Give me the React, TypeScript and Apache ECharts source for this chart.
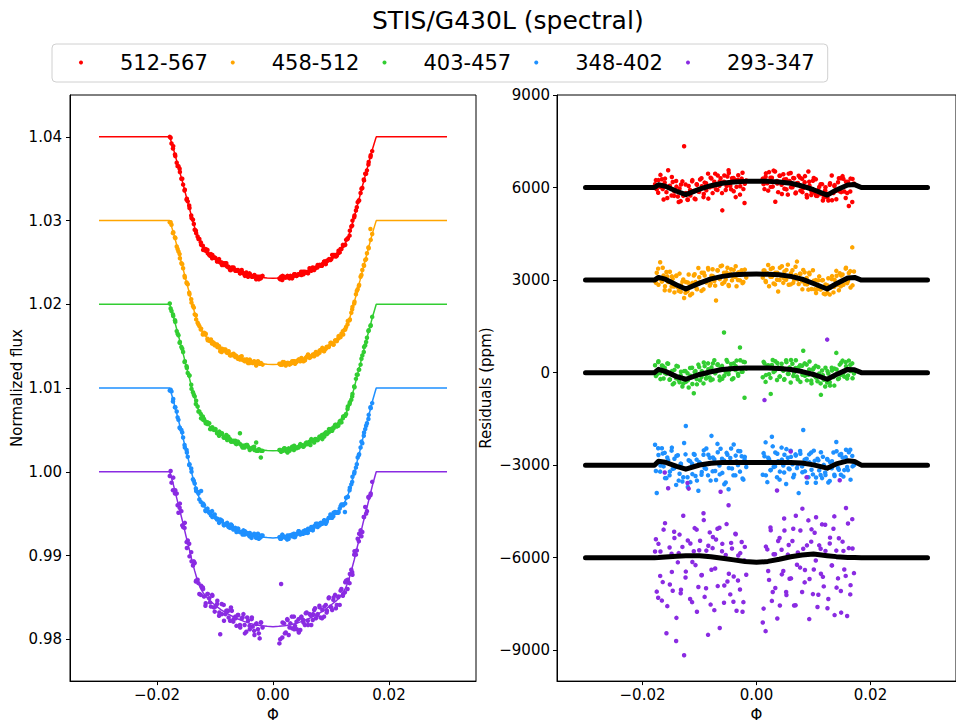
import React, { useEffect, useRef } from "react";
import * as echarts from "echarts";

const FONT = "DejaVu Sans";

const bands = ["512-567", "458-512", "403-457", "348-402", "293-347"];
const colors = ["#ff0000", "#ffa500", "#32cd32", "#1e90ff", "#8a2be2"];

const xTicks = [-0.02, 0, 0.02];
const fluxTicks = [0.98, 0.99, 1.0, 1.01, 1.02, 1.03, 1.04];
const residTicks = [-9000, -6000, -3000, 0, 3000, 6000, 9000];

// orbital phase of each exposure, visit 1 (shared by all spectral channels)
const phase = [
  -0.0178, -0.0175, -0.0172, -0.0169, -0.0166, -0.0163, -0.0161, -0.0158, -0.0155, -0.0152,
  -0.0149, -0.0147, -0.0144, -0.0141, -0.0138, -0.0135, -0.0133, -0.013, -0.0127, -0.0124,
  -0.0121, -0.0119, -0.0116, -0.0113, -0.011, -0.0107, -0.0105, -0.0102, -0.0099, -0.0096,
  -0.0093, -0.0091, -0.0088, -0.0085, -0.0082, -0.0079, -0.0077, -0.0074, -0.0071, -0.0068,
  -0.0065, -0.0063, -0.006, -0.0057, -0.0054, -0.0051, -0.0049, -0.0046, -0.0043, -0.004,
  -0.0037, -0.0035, -0.0032, -0.0029, -0.0026, -0.0023, -0.0021, -0.0018,
  0.0011, 0.0014, 0.0016, 0.0019, 0.0022, 0.0025, 0.0027, 0.003, 0.0033, 0.0036,
  0.0038, 0.0041, 0.0044, 0.0047, 0.0049, 0.0052, 0.0055, 0.0058, 0.006, 0.0063,
  0.0066, 0.0069, 0.0071, 0.0074, 0.0077, 0.008, 0.0082, 0.0085, 0.0088, 0.0091,
  0.0093, 0.0096, 0.0099, 0.0102, 0.0104, 0.0107, 0.011, 0.0113, 0.0115, 0.0118,
  0.0121, 0.0124, 0.0126, 0.0129, 0.0132, 0.0135, 0.0137, 0.014, 0.0143, 0.0146,
  0.0148, 0.0151, 0.0154, 0.0157, 0.0159, 0.0162, 0.0165, 0.0168, 0.0171,
];
// visit 2
const phase2 = [
  -0.01765, -0.01725, -0.01685, -0.01645, -0.01605, -0.01565, -0.01525, -0.01485, -0.01445, -0.01405,
  -0.01365, -0.01325, -0.01285, -0.01245, -0.01205, -0.01165, -0.01125, -0.01085, -0.01045, -0.01005,
  -0.00965, -0.00925, -0.00885, -0.00845, -0.00805, -0.00765, -0.00725, -0.00685, -0.00645, -0.00605,
  -0.00565, -0.00525, -0.00485, -0.00445, -0.00405, -0.00365, -0.00325, -0.00285, -0.00245, -0.00205,
  0.00125, 0.00165, 0.00205, 0.00245, 0.00285, 0.00325, 0.00365, 0.00405, 0.00445, 0.00485,
  0.00525, 0.00565, 0.00605, 0.00645, 0.00685, 0.00725, 0.00765, 0.00805, 0.00845, 0.00885,
  0.00925, 0.00965, 0.01005, 0.01045, 0.01085, 0.01125, 0.01165, 0.01205, 0.01245, 0.01285,
  0.01325, 0.01365, 0.01405, 0.01445, 0.01485, 0.01525, 0.01565, 0.01605, 0.01645, 0.01685,
];

// normalized flux (offset light curves), visit 1
const fluxRed = [
  1.04, 1.0392, 1.0389, 1.0379, 1.0369, 1.0365, 1.0362, 1.035, 1.0343, 1.0337,
  1.0325, 1.0323, 1.0315, 1.0306, 1.0301, 1.0289, 1.0288, 1.0281, 1.0278, 1.0271,
  1.027, 1.0265, 1.0264, 1.0265, 1.0259, 1.026, 1.0255, 1.0256, 1.0255, 1.0252,
  1.0254, 1.025, 1.0247, 1.0249, 1.0249, 1.0245, 1.0245, 1.0241, 1.0244, 1.0244,
  1.024, 1.024, 1.024, 1.0237, 1.0241, 1.0237, 1.0236, 1.0238, 1.0233, 1.0236,
  1.0234, 1.0233, 1.0235, 1.023, 1.0233, 1.0233, 1.0231, 1.0234,
  1.0231, 1.0233, 1.0229, 1.0233, 1.0232, 1.0234, 1.0232, 1.0234, 1.0231, 1.0234,
  1.0236, 1.0234, 1.0236, 1.0236, 1.0235, 1.0239, 1.0239, 1.0238, 1.0239, 1.0243,
  1.024, 1.0243, 1.0241, 1.0244, 1.0247, 1.0247, 1.0246, 1.0248, 1.0251, 1.0248,
  1.0252, 1.0253, 1.0253, 1.0259, 1.0257, 1.0259, 1.0258, 1.0264, 1.0262, 1.0266,
  1.027, 1.0271, 1.0277, 1.0279, 1.0282, 1.0293, 1.03, 1.0304, 1.0312, 1.0322,
  1.0324, 1.0333, 1.0339, 1.0348, 1.0356, 1.036, 1.037, 1.0376, 1.0383,
];
const fluxOrange = [
  1.0298, 1.0295, 1.0286, 1.028, 1.0269, 1.0263, 1.026, 1.0249, 1.0243, 1.0232,
  1.0226, 1.0224, 1.0212, 1.0206, 1.0198, 1.0188, 1.0187, 1.0178, 1.0174, 1.0171,
  1.0164, 1.0166, 1.0165, 1.0159, 1.0157, 1.0158, 1.0153, 1.0154, 1.0152, 1.0149,
  1.015, 1.0144, 1.0147, 1.0145, 1.0146, 1.0142, 1.0143, 1.0139, 1.014, 1.0141,
  1.0137, 1.0138, 1.0136, 1.0134, 1.0138, 1.0133, 1.0134, 1.0134, 1.013, 1.0134,
  1.0131, 1.013, 1.0131, 1.0127, 1.0132, 1.0129, 1.013, 1.0128,
  1.0129, 1.0128, 1.0128, 1.0131, 1.0127, 1.013, 1.013, 1.0129, 1.0132, 1.0132,
  1.0129, 1.0132, 1.0134, 1.0132, 1.0136, 1.0134, 1.0133, 1.0137, 1.0139, 1.0136,
  1.0138, 1.014, 1.0138, 1.0143, 1.0142, 1.0142, 1.0145, 1.0148, 1.0144, 1.0147,
  1.0149, 1.0149, 1.0154, 1.0153, 1.0152, 1.0157, 1.0156, 1.0162, 1.0161, 1.0165,
  1.0164, 1.017, 1.0173, 1.018, 1.0181, 1.019, 1.0197, 1.0201, 1.0212, 1.0218,
  1.0222, 1.0233, 1.0241, 1.0246, 1.0253, 1.0261, 1.0267, 1.029, 1.0284,
];
const fluxGreen = [
  1.0201, 1.0192, 1.0186, 1.0181, 1.0168, 1.0163, 1.0154, 1.0149, 1.0143, 1.0132,
  1.0126, 1.0118, 1.0115, 1.0104, 1.0095, 1.009, 1.0081, 1.0078, 1.0072, 1.0064,
  1.0066, 1.0063, 1.0058, 1.0057, 1.0058, 1.0051, 1.0053, 1.005, 1.0051, 1.0047,
  1.0043, 1.0046, 1.0046, 1.0041, 1.0041, 1.0038, 1.0042, 1.0039, 1.0036, 1.0036,
  1.0037, 1.0033, 1.0035, 1.0046, 1.0031, 1.0031, 1.0029, 1.0032, 1.003, 1.0026,
  1.0028, 1.0029, 1.0026, 1.0035, 1.0025, 1.0026, 1.0017, 1.0025,
  1.0026, 1.0024, 1.0025, 1.0028, 1.0025, 1.0023, 1.0028, 1.0027, 1.003, 1.0026,
  1.0029, 1.0029, 1.0029, 1.0033, 1.0032, 1.003, 1.0032, 1.0035, 1.0033, 1.0036,
  1.0039, 1.0037, 1.0035, 1.0039, 1.0038, 1.0042, 1.0041, 1.0039, 1.0045, 1.0047,
  1.0045, 1.0047, 1.0051, 1.0049, 1.0053, 1.0056, 1.0054, 1.0057, 1.006, 1.0059,
  1.0066, 1.0067, 1.0069, 1.0078, 1.0081, 1.0086, 1.0093, 1.0102, 1.0111, 1.0116,
  1.0122, 1.0128, 1.0139, 1.0149, 1.0151, 1.016, 1.0169, 1.0174, 1.0185,
];
const fluxBlue = [
  1.0097, 1.0096, 1.0087, 1.0077, 1.0072, 1.0062, 1.0053, 1.005, 1.0041, 1.0029,
  1.0026, 1.0018, 1.0009, 1.0004, 0.9991, 0.9986, 0.998, 0.9976, 0.9967, 0.9977,
  0.996, 0.996, 0.9953, 0.9956, 0.9951, 0.9948, 0.9953, 0.9948, 0.9945, 0.9944,
  0.9939, 0.9943, 0.9941, 0.9937, 0.9937, 0.9939, 0.9935, 0.9933, 0.9936, 0.9933,
  0.9933, 0.9928, 0.9932, 0.9928, 0.9928, 0.993, 0.9925, 0.9927, 0.9925, 0.9927,
  0.9921, 0.9924, 0.9924, 0.9921, 0.9926, 0.9921, 0.9922, 0.9924,
  0.9922, 0.992, 0.9925, 0.9922, 0.9921, 0.9924, 0.992, 0.9924, 0.9923, 0.9926,
  0.9922, 0.9926, 0.9929, 0.9925, 0.9927, 0.9926, 0.993, 0.993, 0.9927, 0.9931,
  0.9934, 0.9932, 0.9935, 0.9938, 0.9934, 0.9937, 0.9939, 0.9938, 0.9942, 0.9938,
  0.9942, 0.9945, 0.9949, 0.9945, 0.9947, 0.9952, 0.9951, 0.9952, 0.9956, 0.9961,
  0.996, 0.9952, 0.9969, 0.997, 0.9978, 0.9985, 0.9994, 0.9998, 1.0005, 1.0017,
  1.002, 1.0029, 1.0034, 1.0047, 1.0051, 1.0058, 1.0068, 1.0077, 1.0082,
];
const fluxPurple = [
  0.9995, 0.9987, 0.9993, 0.9974, 0.9974, 0.9951, 0.9957, 0.9953, 0.9934, 0.9939,
  0.9916, 0.9918, 0.9899, 0.9904, 0.9888, 0.9891, 0.9869, 0.9871, 0.9854, 0.9864,
  0.9862, 0.9851, 0.9843, 0.9854, 0.9849, 0.9839, 0.9853, 0.9838, 0.9839, 0.9846,
  0.9828, 0.9806, 0.983, 0.9841, 0.983, 0.9834, 0.9834, 0.9822, 0.9834, 0.9824,
  0.9827, 0.9816, 0.9829, 0.9817, 0.9825, 0.983, 0.9817, 0.9809, 0.9822, 0.9812,
  0.9824, 0.9815, 0.9805, 0.9818, 0.9812, 0.9801, 0.982, 0.9814,
  0.9795, 0.9866, 0.9802, 0.9819, 0.9808, 0.9823, 0.9805, 0.9819, 0.9813, 0.9827,
  0.9816, 0.9812, 0.9824, 0.9811, 0.9827, 0.9823, 0.9817, 0.9832, 0.9822, 0.983,
  0.9817, 0.983, 0.9835, 0.9825, 0.983, 0.984, 0.9826, 0.9835, 0.9827, 0.9841,
  0.9834, 0.9849, 0.9839, 0.9835, 0.9847, 0.9853, 0.9841, 0.9851, 0.9841, 0.986,
  0.9854, 0.9856, 0.987, 0.9871, 0.9867, 0.9883, 0.9877, 0.9901, 0.9901, 0.992,
  0.9917, 0.993, 0.9928, 0.9946, 0.9958, 0.9953, 0.9969, 0.9972, 0.9988,
];

// normalized flux, visit 2
const fluxRed2 = [
  1.0399, 1.0386, 1.0377, 1.0365, 1.0358, 1.035, 1.0336, 1.0326, 1.0318, 1.0303,
  1.0296, 1.0285, 1.0278, 1.0274, 1.0265, 1.0266, 1.0261, 1.0258, 1.0259, 1.0256,
  1.0251, 1.0251, 1.025, 1.0247, 1.0249, 1.0244, 1.0241, 1.0243, 1.0241, 1.0241,
  1.0237, 1.0238, 1.0234, 1.0235, 1.0237, 1.0233, 1.0234, 1.0233, 1.023, 1.0233,
  1.023, 1.0234, 1.0232, 1.0233, 1.0231, 1.0233, 1.0236, 1.0234, 1.0236, 1.0239,
  1.0236, 1.0238, 1.0237, 1.0242, 1.0244, 1.0243, 1.0244, 1.0247, 1.0246, 1.0251,
  1.0251, 1.0254, 1.0254, 1.0259, 1.0257, 1.0261, 1.0266, 1.0271, 1.0271, 1.0278,
  1.0288, 1.0294, 1.0306, 1.0316, 1.0324, 1.0338, 1.0349, 1.0356, 1.0367, 1.0378,
];
const fluxOrange2 = [
  1.0298, 1.0285, 1.0279, 1.0266, 1.0255, 1.0248, 1.0234, 1.0225, 1.0214, 1.0202,
  1.0196, 1.0182, 1.0176, 1.017, 1.0165, 1.0164, 1.0157, 1.0156, 1.0155, 1.0151,
  1.0152, 1.0148, 1.0143, 1.0146, 1.0143, 1.0144, 1.0139, 1.0139, 1.0139, 1.0135,
  1.0137, 1.0134, 1.0132, 1.0134, 1.013, 1.0131, 1.0132, 1.0129, 1.013, 1.0129,
  1.0128, 1.0131, 1.0128, 1.013, 1.0128, 1.013, 1.0132, 1.0131, 1.0134, 1.0133,
  1.0132, 1.0136, 1.014, 1.0137, 1.0139, 1.0141, 1.014, 1.0145, 1.0145, 1.0145,
  1.0149, 1.015, 1.0154, 1.0152, 1.0157, 1.0159, 1.0161, 1.0168, 1.017, 1.0176,
  1.0182, 1.0194, 1.0203, 1.0216, 1.0223, 1.0235, 1.0247, 1.0254, 1.0268, 1.0277,
];
const fluxGreen2 = [
  1.0195, 1.0188, 1.0179, 1.0165, 1.0155, 1.0147, 1.0131, 1.0124, 1.0115, 1.0099,
  1.0092, 1.0085, 1.0072, 1.0069, 1.0062, 1.006, 1.0059, 1.0051, 1.0053, 1.005,
  1.0046, 1.0048, 1.0045, 1.0041, 1.0044, 1.0039, 1.0036, 1.0037, 1.0034, 1.0036,
  1.0033, 1.0029, 1.0031, 1.0032, 1.0028, 1.0028, 1.003, 1.0025, 1.0027, 1.0025,
  1.0026, 1.0025, 1.0028, 1.0026, 1.0025, 1.0028, 1.0031, 1.0028, 1.003, 1.0032,
  1.003, 1.0034, 1.0034, 1.0032, 1.0038, 1.0039, 1.0038, 1.0041, 1.0044, 1.0042,
  1.0047, 1.0051, 1.0049, 1.0052, 1.0056, 1.0055, 1.0061, 1.0064, 1.0067, 1.0075,
  1.0083, 1.009, 1.0101, 1.0116, 1.0122, 1.0135, 1.0143, 1.0155, 1.0168, 1.0175,
];
const fluxBlue2 = [
  1.0098, 1.0084, 1.0077, 1.0065, 1.0052, 1.0047, 1.0032, 1.0023, 1.0008, 1.0,
  0.9989, 0.9977, 0.9974, 0.9964, 0.9962, 0.9954, 0.9953, 0.9952, 0.9946, 0.9949,
  0.9943, 0.9942, 0.9942, 0.9936, 0.9938, 0.9934, 0.9937, 0.9931, 0.9931, 0.9932,
  0.9928, 0.9925, 0.9929, 0.9927, 0.9923, 0.9924, 0.9926, 0.9922, 0.992, 0.9924,
  0.992, 0.9924, 0.9922, 0.9919, 0.9924, 0.9925, 0.9922, 0.9925, 0.9929, 0.9926,
  0.9929, 0.9927, 0.9932, 0.9931, 0.993, 0.9935, 0.9938, 0.9936, 0.9939, 0.9942,
  0.994, 0.9945, 0.9945, 0.9951, 0.9951, 0.9951, 0.9959, 0.9961, 0.9962, 0.997,
  0.9981, 0.9988, 1.0, 1.0009, 1.0021, 1.0036, 1.0043, 1.0055, 1.0063, 1.0076,
];
const fluxPurple2 = [
  1.0001, 0.9978, 0.9978, 0.996, 0.9962, 0.9936, 0.9933, 0.9909, 0.9914, 0.9893,
  0.9893, 0.987, 0.9867, 0.9853, 0.986, 0.984, 0.9854, 0.9844, 0.9852, 0.9833,
  0.9842, 0.9832, 0.9842, 0.9822, 0.9834, 0.9826, 0.9838, 0.9821, 0.9825, 0.9829,
  0.9814, 0.9826, 0.9807, 0.9826, 0.9816, 0.9826, 0.981, 0.9819, 0.9807, 0.982,
  0.98, 0.982, 0.9807, 0.9824, 0.9814, 0.9827, 0.9812, 0.9821, 0.9808, 0.9826,
  0.982, 0.9831, 0.9817, 0.9829, 0.9823, 0.9837, 0.9829, 0.9838, 0.9825, 0.9839,
  0.9832, 0.985, 0.9838, 0.985, 0.9837, 0.985, 0.9858, 0.9852, 0.9868, 0.986,
  0.9878, 0.988, 0.9905, 0.9906, 0.9926, 0.9923, 0.9946, 0.995, 0.997, 0.9974,
];

// residuals (ppm, offset per channel), visit 1
const residRed = [
  6110, 5940, 6240, 6020, 6270, 5610, 6160, 5850, 6560, 6060, 5740, 6180, 5870, 6210, 5710,
  5970, 5560, 6200, 7340, 5820, 5610, 6050, 5740, 6200, 5890, 5620, 6110, 5870, 6260, 6040,
  5690, 6160, 5910, 6450, 6010, 6290, 5820, 6190, 5940, 6390, 6060, 6300, 5260, 6190, 5920,
  6360, 6560, 6060, 6300, 5880, 6250, 6020, 6400, 5770, 6290, 5950, 5500, 6230,
  6290, 5950, 6350, 6140, 6500, 6020, 6320, 6550, 5540, 6210, 5850, 6380, 6090, 6430, 5960,
  6270, 5770, 6210, 6470, 6010, 6300, 5840, 6140, 6380, 5900, 6280, 5980, 6370, 5760, 6520,
  6060, 5760, 6220, 5830, 6270, 5730, 6020, 5790, 6110, 5670, 6010, 5800, 5580, 6140, 6390,
  5820, 6080, 5620, 6170, 5880, 6300, 6370, 5870, 6190, 5820, 5400, 6290, 5530, 6130,
];
const residOrange = [
  2970, 3240, 2850, 3580, 2950, 3150, 2670, 3260, 2940, 3270, 2790, 3040, 2600, 3130, 2770,
  3210, 2620, 2950, 2420, 2940, 2640, 3180, 2820, 2560, 3150, 2940, 2720, 3390, 2930, 3240,
  2700, 3150, 2920, 3390, 2820, 3140, 3350, 2970, 2340, 3310, 3080, 3450, 2880, 3240, 3020,
  3400, 2840, 3210, 2990, 3330, 3100, 2800, 3250, 2990, 3320, 2940, 3210, 3080,
  3080, 3310, 2970, 3220, 2800, 3360, 3110, 2890, 3240, 3010, 2630, 3400, 3120, 2910, 3280,
  3010, 3500, 3110, 2860, 3320, 3010, 3160, 3600, 2870, 3200, 2960, 3330, 2870, 3070, 2690,
  3190, 2920, 3320, 2700, 3000, 2710, 3120, 2770, 2990, 2560, 2860, 2580, 3060, 2750, 3030,
  2600, 3010, 3300, 2840, 3220, 2800, 3180, 2990, 3400, 2900, 3230, 2760, 4060, 3280,
];
const residGreen = [
  240, -70, 370, -10, 230, -190, 160, -40, 290, -220, 20, -380, 90, -180, 200,
  -310, -90, -450, 50, -300, -20, -480, -100, 160, -670, 50, -210, 260, -250, 50,
  -350, 210, -70, 300, -160, 170, -220, 400, 30, 270, -130, 150, -200, 1300, 20,
  350, -50, 160, -220, 300, 80, 390, -100, 815, 30, 350, -815, 130,
  -150, 300, -300, 210, -50, -690, 250, 20, 370, -240, 170, -120, 290, 60, -210,
  400, -40, 170, -320, 290, 0, 400, -130, 180, -300, 220, 710, -100, 260, -70,
  360, -260, 100, -110, 220, -280, -30, -720, 70, -230, 160, -320, -30, -420, 160,
  -140, 130, 640, -210, 260, -70, 390, -130, 210, -190, 390, 50, 300, -30,
];
const residBlue = [
  -2340, -3900, -2670, -3210, -2450, -3040, -2600, -3420, -2840, -3210, -2530, -3120, -2790, -3640, -2680,
  -3280, -2950, -3530, -2280, -1730, -3390, -2840, -3550, -2950, -2640, -3350, -2820, -3830, -2940, -3220,
  -2660, -3090, -2460, -3330, -2760, -2050, -3200, -2810, -3480, -2580, -3010, -2470, -3250, -2850, -3560,
  -2660, -3780, -2770, -3110, -2330, -3330, -2880, -2540, -3210, -2710, -3470, -2810, -3060,
  -3310, -2710, -2260, -3550, -2810, -3160, -2080, -3060, -2590, -3390, -2870, -3210, -2430, -3010, -2660,
  -3610, -2760, -3130, -2530, -2970, -3310, -2690, -3090, -3905, -2630, -3040, -1860, -3200, -2790, -3390,
  -2910, -2590, -3300, -2860, -3570, -2790, -3170, -2580, -3420, -2990, -3320, -2800, -3560, -2900, -3100,
  -2590, -3350, -2250, -3090, -2670, -3310, -2750, -3160, -2500, -3060, -2580, -3470, -2700, -3000,
];
const residPurple = [
  -5800, -7100, -5550, -6590, -7390, -5090, -3240, -8450, -3750, -6870, -5870, -7070, -5360, -8700, -6150,
  -5250, -7150, -5650, -9160, -6450, -3580, -3760, -5540, -7440, -5790, -6240, -5090, -6950, -5450, -6560,
  -4560, -7270, -5770, -8500, -5180, -6390, -5690, -7700, -5410, -6920, -5030, -3860, -5550, -7460, -5910,
  -6770, -4300, -7190, -5700, -6610, -5220, -7720, -5930, -7030, -5490, -7440, -6090, -6550,
  -8100, -890, -8380, -5730, -6720, -5110, -7400, -5890, -6980, -3820, -5460, -7550, -5740, -6430, -5120,
  -7110, -5900, -6680, -2560, -5460, -7550, -4640, -6230, -2940, -5120, -7110, -5710, -6400, -3390, -4790,
  -6690, -5480, -7180, -5190, -6090, -7600, -5600, -6520, -4920, -6930, -5780, 1070, -7340, -5350, -6250,
  -5060, -7860, -5770, -6670, -3490, -7080, -5480, -6380, -4390, -7890, -5690, -6890, -4750, -6500,
];

// residuals, visit 2
const residRed2 = [
  6240, 5830, 6410, 5950, 6290, 5660, 6040, 6340, 5730, 6030, 5530, 6100, 5730, 6100, 5600, 5920,
  6240, 5640, 6090, 5860, 6300, 5790, 6140, 5640, 6320, 6040, 6450, 5920, 6200, 5820, 6390, 6050,
  6470, 5940, 6310, 5690, 6250, 6040, 6480, 6120,
  6110, 6460, 5900, 6320, 6030, 6520, 6130, 6380, 5790, 6260, 5940, 6450, 6010, 6310, 5810, 6150,
  6320, 5850, 6170, 5680, 6190, 5870, 6310, 5730, 5920, 6110, 5580, 5910, 5680, 6090, 5590, 6050,
  5900, 6300, 5850, 6280, 5660, 6190, 5870, 6280,
];
const residOrange2 = [
  2910, 3370, 3030, 3400, 2800, 3120, 2660, 3120, 2790, 3150, 2650, 2830, 3020, 2590, 2920, 2510,
  2910, 3190, 2700, 3090, 2650, 3240, 2950, 3340, 2890, 3130, 2820, 3320, 3030, 3470, 2930, 3250,
  2810, 3350, 3120, 3450, 3000, 3250, 2900, 3340,
  3310, 2940, 3490, 3110, 3390, 2860, 3240, 3000, 3450, 3050, 3330, 2850, 3220, 2910, 3430, 3020,
  3210, 2700, 3250, 2860, 3240, 2710, 2980, 2580, 2990, 2690, 3000, 2540, 2830, 2530, 3130, 2780,
  3140, 2670, 3150, 2850, 3370, 2970, 3290, 2830,
];
const residGreen2 = [
  -110, 340, -210, 220, -10, 300, -230, 50, -340, 220, -240, 30, -350, 50, -250, 150,
  -370, 20, -380, 180, -140, 330, -190, 110, -250, 300, -20, 250, -250, 220, -100, 410,
  60, 280, -180, 210, -40, 400, 30, 340,
  350, -80, 240, -170, 410, 60, 310, -130, 170, -230, 340, -40, 410, -110, 150, -220,
  240, -70, 300, -250, 100, -350, 150, -160, 180, -350, -80, -450, 50, -310, 70, -420,
  100, -190, 320, -10, 340, -90, 250, -180,
];
const residBlue2 = [
  -3190, -2450, -3010, -2620, -3420, -2750, -3330, -2430, -3100, -2700, -3500, -2960, -3390, -2650, -3710, -2870,
  -3290, -2660, -3500, -2900, -3310, -2520, -3120, -2660, -3500, -2750, -3190, -2310, -3300, -2790, -3620, -2600,
  -3090, -2460, -3330, -2690, -3000, -2550, -3430, -2730,
  -2610, -3330, -2760, -3160, -2390, -3040, -2630, -3470, -2820, -3240, -2480, -3110, -2730, -3390, -2650, -2980,
  -2540, -3230, -2820, -3570, -2650, -3150, -2530, -3400, -2840, -3320, -2730, -3240, -2820, -3510, -2870, -3310,
  -2550, -3150, -2640, -3370, -2740, -3160, -2500, -3040,
];
const residPurple2 = [
  -5400, -7300, -5800, -6790, -4880, -7570, -5670, -6460, -5160, -7950, -5850, -7040, -4640, -6640, -5440, -7340,
  -6140, -5040, -7750, -5760, -6570, -4780, -6990, -5610, -7520, -5330, -6350, -5060, -8280, -5790, -6900, -4910,
  -6520, -5520, -7430, -5240, -6740, -5850, -7750, -5650,
  -7650, -5640, -6430, -5020, -7110, -5890, -7970, -5360, -6540, -4730, -7210, -5590, -6670, -5060, -7540, -5830,
  -6320, -4410, -6800, -5600, -7990, -5080, -6380, -4690, -7200, -5710, -6620, -4930, -7640, -5540, -6250, -4660,
  -6970, -5370, -7780, -5780, -6590, -4890, -7190, -5700,
];

// transit model curves
const modelPhase = [
  -0.03, -0.0178, -0.0175, -0.0172, -0.0169, -0.0166, -0.0163, -0.016, -0.0155, -0.015,
  -0.0145, -0.014, -0.0135, -0.013, -0.0125, -0.012, -0.011, -0.01, -0.009, -0.008,
  -0.007, -0.006, -0.005, -0.004, -0.003, -0.002, -0.001, 0,
  0.001, 0.002, 0.003, 0.004, 0.005, 0.006, 0.007, 0.008, 0.009, 0.01,
  0.011, 0.012, 0.0125, 0.013, 0.0135, 0.014, 0.0145, 0.015, 0.0155, 0.016,
  0.0163, 0.0166, 0.0169, 0.0172, 0.0175, 0.0178, 0.03,
];
const modelRed = [
  1.04, 1.04, 1.03932, 1.03865, 1.03789, 1.03713, 1.03637, 1.03561, 1.03434, 1.03299,
  1.03172, 1.03037, 1.02918, 1.02809, 1.02729, 1.02677, 1.02597, 1.02547, 1.02496, 1.02459,
  1.02423, 1.02393, 1.02367, 1.02345, 1.0233, 1.0232, 1.02313, 1.0231,
  1.02313, 1.0232, 1.0233, 1.02345, 1.02367, 1.02393, 1.02423, 1.02459, 1.02496, 1.02547,
  1.02597, 1.02677, 1.02729, 1.02809, 1.02918, 1.03037, 1.03172, 1.03299, 1.03434, 1.03561,
  1.03637, 1.03713, 1.03789, 1.03865, 1.03932, 1.04, 1.04,
];
const modelOrange = [
  1.03, 1.03, 1.02931, 1.02862, 1.02785, 1.02708, 1.0263, 1.02553, 1.02424, 1.02286,
  1.02157, 1.0202, 1.01899, 1.01787, 1.01707, 1.01653, 1.01572, 1.01521, 1.01469, 1.01431,
  1.01395, 1.01364, 1.01338, 1.01316, 1.01301, 1.0129, 1.01283, 1.0128,
  1.01283, 1.0129, 1.01301, 1.01316, 1.01338, 1.01364, 1.01395, 1.01431, 1.01469, 1.01521,
  1.01572, 1.01653, 1.01707, 1.01787, 1.01899, 1.0202, 1.02157, 1.02286, 1.02424, 1.02553,
  1.0263, 1.02708, 1.02785, 1.02862, 1.02931, 1.03, 1.03,
];
const modelGreen = [
  1.02, 1.02, 1.0193, 1.0186, 1.01781, 1.01703, 1.01624, 1.01545, 1.01414, 1.01274,
  1.01143, 1.01003, 1.0088, 1.00766, 1.00684, 1.0063, 1.00548, 1.00495, 1.00443, 1.00404,
  1.00367, 1.00336, 1.0031, 1.00287, 1.00271, 1.00261, 1.00254, 1.0025,
  1.00254, 1.00261, 1.00271, 1.00287, 1.0031, 1.00336, 1.00367, 1.00404, 1.00443, 1.00495,
  1.00548, 1.0063, 1.00684, 1.00766, 1.0088, 1.01003, 1.01143, 1.01274, 1.01414, 1.01545,
  1.01624, 1.01703, 1.01781, 1.0186, 1.0193, 1.02, 1.02,
];
const modelBlue = [
  1.01, 1.01, 1.00928, 1.00857, 1.00776, 1.00696, 1.00615, 1.00535, 1.004, 1.00257,
  1.00123, 0.9998, 0.99854, 0.99738, 0.99654, 0.99598, 0.99514, 0.99461, 0.99407, 0.99368,
  0.9933, 0.99298, 0.99271, 0.99248, 0.99231, 0.99221, 0.99214, 0.9921,
  0.99214, 0.99221, 0.99231, 0.99248, 0.99271, 0.99298, 0.9933, 0.99368, 0.99407, 0.99461,
  0.99514, 0.99598, 0.99654, 0.99738, 0.99854, 0.9998, 1.00123, 1.00257, 1.004, 1.00535,
  1.00615, 1.00696, 1.00776, 1.00857, 1.00928, 1.01, 1.01,
];
const modelPurple = [
  1.0, 1.0, 0.99926, 0.99852, 0.99769, 0.99686, 0.99602, 0.99519, 0.9938, 0.99232,
  0.99094, 0.98946, 0.98816, 0.98696, 0.98609, 0.98551, 0.98465, 0.98409, 0.98354, 0.98313,
  0.98274, 0.98241, 0.98213, 0.98189, 0.98172, 0.98161, 0.98154, 0.9815,
  0.98154, 0.98161, 0.98172, 0.98189, 0.98213, 0.98241, 0.98274, 0.98313, 0.98354, 0.98409,
  0.98465, 0.98551, 0.98609, 0.98696, 0.98816, 0.98946, 0.99094, 0.99232, 0.9938, 0.99519,
  0.99602, 0.99686, 0.99769, 0.99852, 0.99926, 1.0, 1.0,
];

// systematics model shown with the residuals (ppm)
const sysPhase = [
  -0.03, -0.0179, -0.0172, -0.016, -0.014, -0.0124, -0.01, -0.008, -0.006, -0.004, -0.002, 0,
  0.002, 0.004, 0.006, 0.008, 0.01, 0.0124, 0.014, 0.016, 0.0172, 0.0184, 0.03,
];
const sysRed = [
  6000, 6000, 6090, 6040, 5880, 5770, 5950, 6060, 6140, 6180, 6200, 6205,
  6200, 6180, 6140, 6050, 5930, 5755, 5920, 6080, 6095, 6000, 6000,
];
const sysOrange = [
  3000, 3000, 3086, 3030, 2840, 2710, 2900, 3040, 3120, 3170, 3190, 3194,
  3190, 3170, 3120, 3030, 2890, 2710, 2880, 3070, 3086, 3000, 3000,
];
const sysGreen = [
  0, 0, 107, 40, -130, -215, -60, 30, 100, 135, 148, 150,
  148, 135, 100, 35, -60, -215, -60, 105, 90, 0, 0,
];
const sysBlue = [
  -3000, -3000, -2870, -2905, -3040, -3129, -2995, -2940, -2914, -2914, -2914, -2914,
  -2914, -2914, -2914, -2930, -2990, -3097, -2960, -2860, -2880, -3000, -3000,
];
const sysPurple = [
  -6000, -6000, -5995, -5975, -5955, -5940, -5938, -5970, -6020, -6070, -6125, -6150,
  -6120, -6050, -5970, -5910, -5882, -5935, -5965, -5990, -5995, -6000, -6000,
];

const fluxSets = [fluxRed, fluxOrange, fluxGreen, fluxBlue, fluxPurple];
const fluxSets2 = [fluxRed2, fluxOrange2, fluxGreen2, fluxBlue2, fluxPurple2];
const residSets = [residRed, residOrange, residGreen, residBlue, residPurple];
const residSets2 = [residRed2, residOrange2, residGreen2, residBlue2, residPurple2];
const modelSets = [modelRed, modelOrange, modelGreen, modelBlue, modelPurple];
const sysSets = [sysRed, sysOrange, sysGreen, sysBlue, sysPurple];

const pairs = (xs: number[], ys: number[]) =>
  xs.slice(0, Math.min(xs.length, ys.length)).map((x, i) => [x, ys[i]]);
const minus = (s: string) => s.replace("-", "\u2212");

const axisText = { fontFamily: FONT, fontSize: 15, color: "#000" };

function xAxisCfg(gridIndex: number) {
  return {
    type: "value",
    gridIndex,
    min: -0.035,
    max: 0.035,
    name: "Φ",
    nameLocation: "middle",
    nameGap: 22,
    nameTextStyle: axisText,
    axisLine: { show: true, onZero: false, lineStyle: { color: "#000", width: 1 } },
    axisTick: { show: true, length: 4, customValues: xTicks, lineStyle: { color: "#000", width: 1 } },
    axisLabel: {
      ...axisText,
      margin: 6,
      customValues: xTicks,
      formatter: (v: number) => minus(v.toFixed(2)),
    },
    splitLine: { show: false },
  };
}

export default function App() {
  const ref = useRef<HTMLDivElement>(null);
  useEffect(() => {
    if (!ref.current) return;
    const chart = echarts.init(ref.current, null, { renderer: "svg" });
    const series: any[] = [];
    bands.forEach((b, i) => {
      series.push({
        type: "line",
        name: "model " + b,
        xAxisIndex: 0,
        yAxisIndex: 0,
        data: pairs(modelPhase, modelSets[i]),
        showSymbol: false,
        symbol: "none",
        silent: true,
        lineStyle: { color: colors[i], width: 1.5 },
        z: 2,
      });
    });
    bands.forEach((b, i) => {
      series.push({
        type: "scatter",
        name: b,
        xAxisIndex: 0,
        yAxisIndex: 0,
        data: pairs(phase, fluxSets[i]).concat(pairs(phase2, fluxSets2[i])),
        symbolSize: 4.5,
        itemStyle: { color: colors[i], opacity: 1 },
        z: 3,
      });
    });
    bands.forEach((b, i) => {
      series.push({
        type: "scatter",
        name: b,
        xAxisIndex: 1,
        yAxisIndex: 1,
        data: pairs(phase, residSets[i]).concat(pairs(phase2, residSets2[i])),
        symbolSize: 4.5,
        itemStyle: { color: colors[i], opacity: 1 },
        z: 3,
      });
    });
    bands.forEach((b, i) => {
      series.push({
        type: "line",
        name: "systematics " + b,
        xAxisIndex: 1,
        yAxisIndex: 1,
        data: pairs(sysPhase, sysSets[i]),
        showSymbol: false,
        symbol: "none",
        silent: true,
        lineStyle: { color: "#000", width: 5, cap: "round", join: "round" },
        z: 5,
      });
    });

    chart.setOption({
      animation: false,
      backgroundColor: "#fff",
      textStyle: { fontFamily: FONT },
      title: {
        text: "STIS/G430L (spectral)",
        left: 367,
        top: 3,
        textStyle: { fontFamily: FONT, fontSize: 25, fontWeight: "normal", color: "#000" },
      },
      legend: {
        data: bands,
        left: 52,
        top: 44,
        orient: "horizontal",
        icon: "circle",
        itemWidth: 4,
        itemHeight: 4,
        itemGap: 23,
        padding: [8, 13, 9, 27],
        borderColor: "#d0d0d0",
        borderWidth: 1,
        borderRadius: 4,
        selectedMode: false,
        textStyle: { fontFamily: FONT, fontSize: 21, color: "#000", padding: [0, 0, 0, 32] },
      },
      grid: [
        { left: 70, top: 95, width: 406, height: 591.5, show: true, borderColor: "#000", borderWidth: 1 },
        { left: 557, top: 95, width: 406, height: 591.5, show: true, borderColor: "#000", borderWidth: 1 },
      ],
      xAxis: [xAxisCfg(0), xAxisCfg(1)],
      yAxis: [
        {
          type: "value",
          gridIndex: 0,
          min: 0.975,
          max: 1.045,
          name: "Normalized flux",
          nameLocation: "middle",
          nameRotate: 90,
          nameGap: 46,
          nameTextStyle: axisText,
          axisLine: { show: true, onZero: false, lineStyle: { color: "#000", width: 1 } },
          axisTick: { show: true, length: 4, customValues: fluxTicks, lineStyle: { color: "#000", width: 1 } },
          axisLabel: { ...axisText, margin: 8, customValues: fluxTicks, formatter: (v: number) => v.toFixed(2) },
          splitLine: { show: false },
        },
        {
          type: "value",
          gridIndex: 1,
          min: -10000,
          max: 9000,
          name: "Residuals (ppm)",
          nameLocation: "middle",
          nameRotate: 90,
          nameGap: 64,
          nameTextStyle: axisText,
          axisLine: { show: true, onZero: false, lineStyle: { color: "#000", width: 1 } },
          axisTick: { show: true, length: 4, customValues: residTicks, lineStyle: { color: "#000", width: 1 } },
          axisLabel: { ...axisText, margin: 7, customValues: residTicks, formatter: (v: number) => minus(String(v)) },
          splitLine: { show: false },
        },
      ],
      series,
    });
    return () => chart.dispose();
  }, []);
  return (
    <div
      ref={ref}
      style={{ position: "absolute", left: 0, top: 0, width: 956, height: 727, background: "#fff" }}
    />
  );
}
